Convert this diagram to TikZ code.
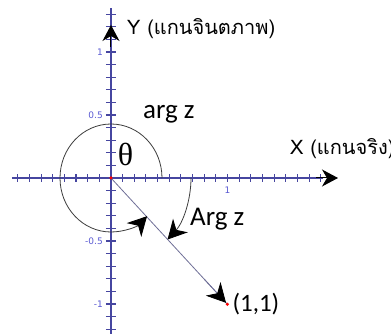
\documentclass[tikz,border=0pt]{standalone}
\usepackage{fontspec}
\setmainfont{Carlito}
\newfontfamily\thaifont[Script=Thai]{Loma}
\newfontfamily\tickfont{DejaVu Sans}
\newfontfamily\greekfont{Liberation Serif}
\definecolor{axiscol}{RGB}{70,70,160}
\definecolor{ticklabcol}{RGB}{90,90,210}
\definecolor{segcol}{RGB}{110,110,150}
\definecolor{arccol}{RGB}{60,60,60}
\usetikzlibrary{arrows.meta,positioning,calc}
\tikzset{
  vectip/.style={-{Stealth[length=16pt,width=17pt,inset=5pt,color=black]}},
  bigtip/.style={-{Stealth[length=19pt,width=20pt,inset=6pt,color=black]}}
}

\begin{document}
\begin{tikzpicture}[x=1pt,y=1pt,
  axisline/.style={axiscol,line width=1.6pt},
  tickmark/.style={axiscol,line width=1.1pt},
  ticklab/.style={font=\tickfont\fontsize{9}{9}\selectfont,text=ticklabcol,inner sep=0pt},
  axislab/.style={font=\thaifont\fontsize{20}{20}\selectfont,inner sep=0pt},
  anglab/.style={font=\fontsize{27}{27}\selectfont,inner sep=0pt},
  dot/.style={circle,fill=red,inner sep=0pt,minimum size=3.5pt}
]
  \useasboundingbox (-111,-156) rectangle (280,178);
  \coordinate (O) at (0,0);
  \coordinate (P) at (116.4,-126.3);
  % axes with ticks
  \draw[axisline] (-99,0) -- (212,0);
  \draw[axisline] (0,-156) -- (0,170);
  \foreach \k in {-8,...,18}
    \draw[tickmark] (\k*11.65,-4) -- (\k*11.65,4);
  \foreach \k in {-12,...,13}
    \draw[tickmark] (-5,\k*12.6) -- (5,\k*12.6);
  \coordinate (xa) at (205,0);
  \coordinate (xb) at (227,0);
  \coordinate (ya) at (0,131);
  \coordinate (yb) at (0,153);
  \draw[vectip,black,line width=1pt] (xa) -- (xb);
  \draw[vectip,black,line width=1pt] (ya) -- (yb);
  \node[ticklab,anchor=east] (t1) at (-8,126) {1};
  \node[ticklab,anchor=east] (t2) at (-8,63) {0.5};
  \node[ticklab,anchor=east] (t3) at (-8,-63) {-0.5};
  \node[ticklab,anchor=east] (t4) at (-8,-126) {-1};
  \node[ticklab,anchor=north] (t5) at (116.5,-9) {1};
  \node[axislab,anchor=base west] (ylab) at (16,143) {Y (แกนจินตภาพ)};
  \node[axislab,anchor=base west] (xlab) at (179,23) {X (แกนจริง)};
  % segment to the point
  \draw[segcol,line width=0.8pt] (O) -- (P);
  \draw[bigtip,segcol,line width=0.8pt,shorten >=2pt] ($(O)!0.8!(P)$) -- (P);
  % angles
  \draw[bigtip,arccol,line width=0.8pt] (51,0)
    arc[start angle=0,end angle=315,x radius=51,y radius=54];
  \draw[bigtip,arccol,line width=0.8pt] (80,0)
    arc[start angle=0,end angle=-45,x radius=80,y radius=87];
  \node[dot] (o) at (O) {};
  \node[dot] (p) at (P) {};
  \node[anglab,anchor=base west] (argsmall) at (32,59) {arg z};
  \node[font=\greekfont\fontsize{32}{32}\selectfont,inner sep=0pt] (theta) at (14.5,24) {θ};
  \node[anglab,anchor=base west] (argbig) at (79,-48) {Arg z};
  \node[anglab,font=\fontsize{25}{25}\selectfont,right=3pt of p] (plab) {(1,1)};
\end{tikzpicture}
\end{document}
